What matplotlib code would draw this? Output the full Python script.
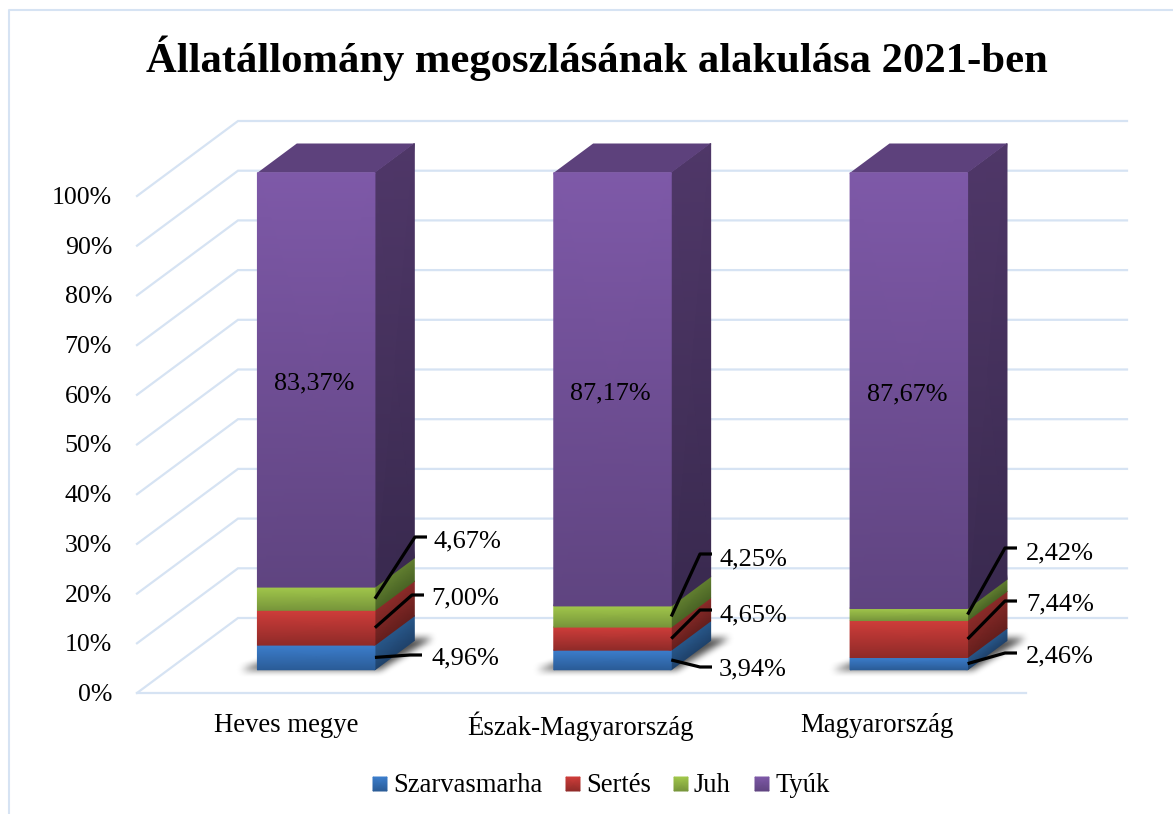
import numpy as np
import matplotlib
matplotlib.use('Agg')
import matplotlib.pyplot as plt
from matplotlib.path import Path
from matplotlib.colors import to_rgb

plt.rcParams['font.family'] = ['Liberation Serif', 'DejaVu Serif']

# data
title = 'Állatállomány megoszlásának alakulása 2021-ben'
categories = ['Heves megye', 'Észak-Magyarország', 'Magyarország']
series_names = ['Szarvasmarha', 'Sertés', 'Juh', 'Tyúk']
szarvasmarha = [4.96, 3.94, 2.46]
sertes = [7.00, 4.65, 7.44]
juh = [4.67, 4.25, 2.42]
tyuk = [83.37, 87.17, 87.67]
ticks = [0, 10, 20, 30, 40, 50, 60, 70, 80, 90, 100]

# colours: front top, front bottom, side top, side bottom
colors = [('#3c7ecd', '#2a5b96', '#28588a', '#1f426b'),
          ('#d03d3a', '#8e2a28', '#8c2b29', '#651f1d'),
          ('#a2c84b', '#76943a', '#627f30', '#4a6425'),
          ('#7e59a8', '#5f4480', '#4f3768', '#3a2a50')]
top_color = '#5d417c'
grid_color = '#d6e3f3'

# oblique projection, figure pixels
X0, Y0 = 137, 693      # front left floor corner
FLOOR_W = 889
DX, DY = 101, -75      # floor depth
V = 4.97               # pixels per percent
BAR_W = 117.5
BAR_SHIFT = -0.3
D_FRONT, D_BACK = 0.31, 0.70


def proj(u, v, d):
    # u: pixels along the floor, v: percent, d: depth 0..1
    return X0 + u + d * DX, Y0 - v * V + d * DY


fig = plt.figure(figsize=(11.73, 8.14), dpi=100)
ax = fig.add_axes([0, 0, 1, 1])
ax.set_xlim(0, 1173)
ax.set_ylim(814, 0)
ax.axis('off')

# border of the chart area
ax.plot([9, 9, 1173], [814, 10, 10], color=grid_color, lw=1.5, zorder=1)

# gridlines
for t in ticks:
    xa, ya = proj(0, t, 0)
    xb, yb = proj(0, t, 1)
    xc, yc = proj(FLOOR_W, t, 1)
    ax.plot([xa, xb, xc], [ya, yb, yc], color=grid_color, lw=1.6, zorder=1,
            solid_joinstyle='miter')
    ax.text(112, ya + 2, f'{t}%', ha='right', va='center', fontsize=18.6, color='black')
ax.plot([X0, X0 + FLOOR_W], [Y0, Y0], color=grid_color, lw=1.6, zorder=1)


def blur(a, n):
    k = np.ones(n) / n
    for _ in range(2):
        a = np.apply_along_axis(lambda r: np.convolve(r, k, mode='same'), 0, a)
        a = np.apply_along_axis(lambda r: np.convolve(r, k, mode='same'), 1, a)
    return a


def shaded(corners, c1, c2, z):
    # corners: top-left, top-right, bottom-left, bottom-right
    xs = np.array([[corners[0][0], corners[1][0]], [corners[2][0], corners[3][0]]])
    ys = np.array([[corners[0][1], corners[1][1]], [corners[2][1], corners[3][1]]])
    c = np.array([[to_rgb(c1), to_rgb(c1)], [to_rgb(c2), to_rgb(c2)]])
    ax.pcolormesh(xs, ys, c, shading='gouraud', zorder=z, rasterized=False)


stack = np.array([szarvasmarha, sertes, juh, tyuk])
cat_x = [286, 581, 877]
for i, cat in enumerate(categories):
    u0 = FLOOR_W / 3 * (i + 0.5) - BAR_W / 2 + BAR_SHIFT
    u1 = u0 + BAR_W

    # soft shadow on the floor
    sx0, sy0 = proj(u0 - 16, 0, D_FRONT - 0.01)
    px, py = np.meshgrid(np.arange(int(sx0) - 30, int(sx0) + 250), np.arange(int(sy0) - 60, int(sy0) + 16))
    foot = [proj(u0 - 20, 0, D_FRONT + 0.02), proj(u1 + 2, 0, D_FRONT + 0.02),
            proj(u1 + 12, 0, D_BACK + 0.06), proj(u0 + 30, 0, D_BACK + 0.06)]
    mask = Path(foot).contains_points(np.c_[px.ravel(), py.ravel()]).reshape(px.shape).astype(float)
    alpha = blur(mask, 8) * 0.68
    rgba = np.zeros(px.shape + (4,))
    rgba[..., 3] = alpha
    ax.imshow(rgba, extent=(px.min(), px.max() + 1, py.max() + 1, py.min()),
              zorder=2, interpolation='bilinear', aspect='auto')

    base = 0
    for s in range(4):
        v = stack[s][i]
        c = colors[s]
        shaded([proj(u0, base + v, D_FRONT), proj(u1, base + v, D_FRONT),
                proj(u0, base, D_FRONT), proj(u1, base, D_FRONT)], c[0], c[1], 4)
        shaded([proj(u1, base + v, D_FRONT), proj(u1, base + v, D_BACK),
                proj(u1, base, D_FRONT), proj(u1, base, D_BACK)], c[2], c[3], 3)
        base += v
    top = [proj(u0, 100, D_FRONT), proj(u1, 100, D_FRONT),
           proj(u1, 100, D_BACK), proj(u0, 100, D_BACK)]
    ax.fill([p[0] for p in top], [p[1] for p in top], color=top_color, lw=0, zorder=3)

    # purple label sits in the middle of its segment
    cx, cy = proj(u0 + BAR_W / 2, stack[:3, i].sum() + tyuk[i] / 2, D_FRONT)
    ax.text(cx - 2, cy + 4, f'{tyuk[i]:.2f}%'.replace('.', ','), ha='center', va='center',
            fontsize=18.8, color='black', zorder=6)

    ax.text(cat_x[i], 726, cat, ha='center', va='center', fontsize=19.3, color='black')

# leader lines and outer labels
label_x = [[431, 431, 434], [719, 719, 719], [1026, 1026, 1026]]
label_y = [[658, 598, 541], [669, 615, 559], [656, 604, 553]]
elbow_x = [[410, 412, 415], [700, 700, 700], [1005, 1005, 1005]]
elbow_y = [[655, 595, 537], [667, 610, 554], [653, 601, 548]]
for i in range(3):
    u1 = FLOOR_W / 3 * (i + 0.5) + BAR_W / 2 + BAR_SHIFT
    base = 0
    for s in range(3):
        v = stack[s][i]
        sx, sy = proj(u1, base + v / 2, D_FRONT)
        ex, ey = elbow_x[i][s], elbow_y[i][s]
        ax.plot([sx, ex, ex + 12], [sy, ey, ey], color='black', lw=2.3, zorder=5,
                solid_joinstyle='round', solid_capstyle='butt')
        ax.text(label_x[i][s], label_y[i][s], f'{v:.2f}%'.replace('.', ','), ha='left', va='center',
                fontsize=19, color='black', zorder=6)
        base += v

# legend
legend_box = [373, 566, 674, 755]
legend_txt = [393, 586, 693, 776]
for s, name in enumerate(series_names):
    x = legend_box[s]
    shaded([(x, 777), (x + 14, 777), (x, 791), (x + 14, 791)], colors[s][0], colors[s][1], 4)
    ax.text(legend_txt[s], 785, name, ha='left', va='center', fontsize=19.2, color='black')

ax.text(597, 58, title, ha='center', va='center', fontsize=30.7, fontweight='bold', color='black')

ax.set_xlim(0, 1173)
ax.set_ylim(814, 0)
fig.savefig('out.png', dpi=100, facecolor='white')
